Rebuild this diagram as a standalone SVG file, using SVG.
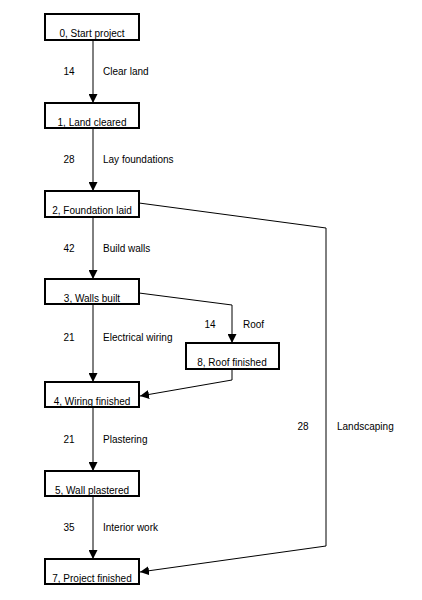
<svg xmlns="http://www.w3.org/2000/svg" width="422" height="600" viewBox="0 0 422 600">
<style>
.box{fill:#fff;stroke:#000;stroke-width:2}
.t{font-family:"Liberation Sans",Arial,sans-serif;font-size:10px;fill:#000}
.c{text-anchor:middle}
.e{fill:none;stroke:#000;stroke-width:1}
</style>
<defs>
<marker id="ah" markerUnits="userSpaceOnUse" markerWidth="9" markerHeight="9" refX="9" refY="4.5" orient="auto">
<path d="M0,0 L9,4.5 L0,9 z" fill="#000"/>
</marker>
</defs>
<rect width="422" height="600" fill="#fff"/>
<g id="connectors">
<line class="e" x1="93" y1="40" x2="93" y2="103" marker-end="url(#ah)"/>
<line class="e" x1="93" y1="128" x2="93" y2="191" marker-end="url(#ah)"/>
<line class="e" x1="93" y1="217" x2="93" y2="279" marker-end="url(#ah)"/>
<line class="e" x1="93" y1="304" x2="93" y2="382" marker-end="url(#ah)"/>
<line class="e" x1="93" y1="407" x2="93" y2="471" marker-end="url(#ah)"/>
<line class="e" x1="93" y1="496" x2="93" y2="559" marker-end="url(#ah)"/>
<polyline class="e" points="139,293 232,305 232,343" marker-end="url(#ah)"/>
<polyline class="e" points="232,369 232,380 140,396" marker-end="url(#ah)"/>
<polyline class="e" points="139,203 326,228 326,546 140,572" marker-end="url(#ah)"/>
<text class="t c" x="69" y="75">14</text><text class="t" x="103" y="75">Clear land</text>
<text class="t c" x="69" y="163">28</text><text class="t" x="103" y="163">Lay foundations</text>
<text class="t c" x="69" y="252">42</text><text class="t" x="103" y="252">Build walls</text>
<text class="t c" x="69" y="341">21</text><text class="t" x="103" y="341">Electrical wiring</text>
<text class="t c" x="210" y="328">14</text><text class="t" x="243" y="328">Roof</text>
<text class="t c" x="69" y="443">21</text><text class="t" x="103" y="443">Plastering</text>
<text class="t c" x="69" y="531">35</text><text class="t" x="103" y="531">Interior work</text>
<text class="t c" x="303" y="430">28</text><text class="t" x="337" y="430">Landscaping</text>
</g>
<g id="n0"><rect class="box" x="45" y="14" width="94" height="26"/><text class="t c" x="92" y="37">0, Start project</text></g>
<g id="n1"><rect class="box" x="45" y="103" width="94" height="25"/><text class="t c" x="92" y="125.5">1, Land cleared</text></g>
<g id="n2"><rect class="box" x="45" y="191" width="94" height="26"/><text class="t c" x="92" y="213.5">2, Foundation laid</text></g>
<g id="n3"><rect class="box" x="45" y="279" width="94" height="25"/><text class="t c" x="92" y="301.5">3, Walls built</text></g>
<g id="n8"><rect class="box" x="186" y="343" width="93" height="26"/><text class="t c" x="232" y="365.5">8, Roof finished</text></g>
<g id="n4"><rect class="box" x="45" y="382" width="94" height="25"/><text class="t c" x="92" y="404.5">4, Wiring finished</text></g>
<g id="n5"><rect class="box" x="45" y="471" width="94" height="25"/><text class="t c" x="92" y="493.5">5, Wall plastered</text></g>
<g id="n7"><rect class="box" x="45" y="559" width="94" height="25"/><text class="t c" x="92" y="581.5">7, Project finished</text></g>
</svg>
